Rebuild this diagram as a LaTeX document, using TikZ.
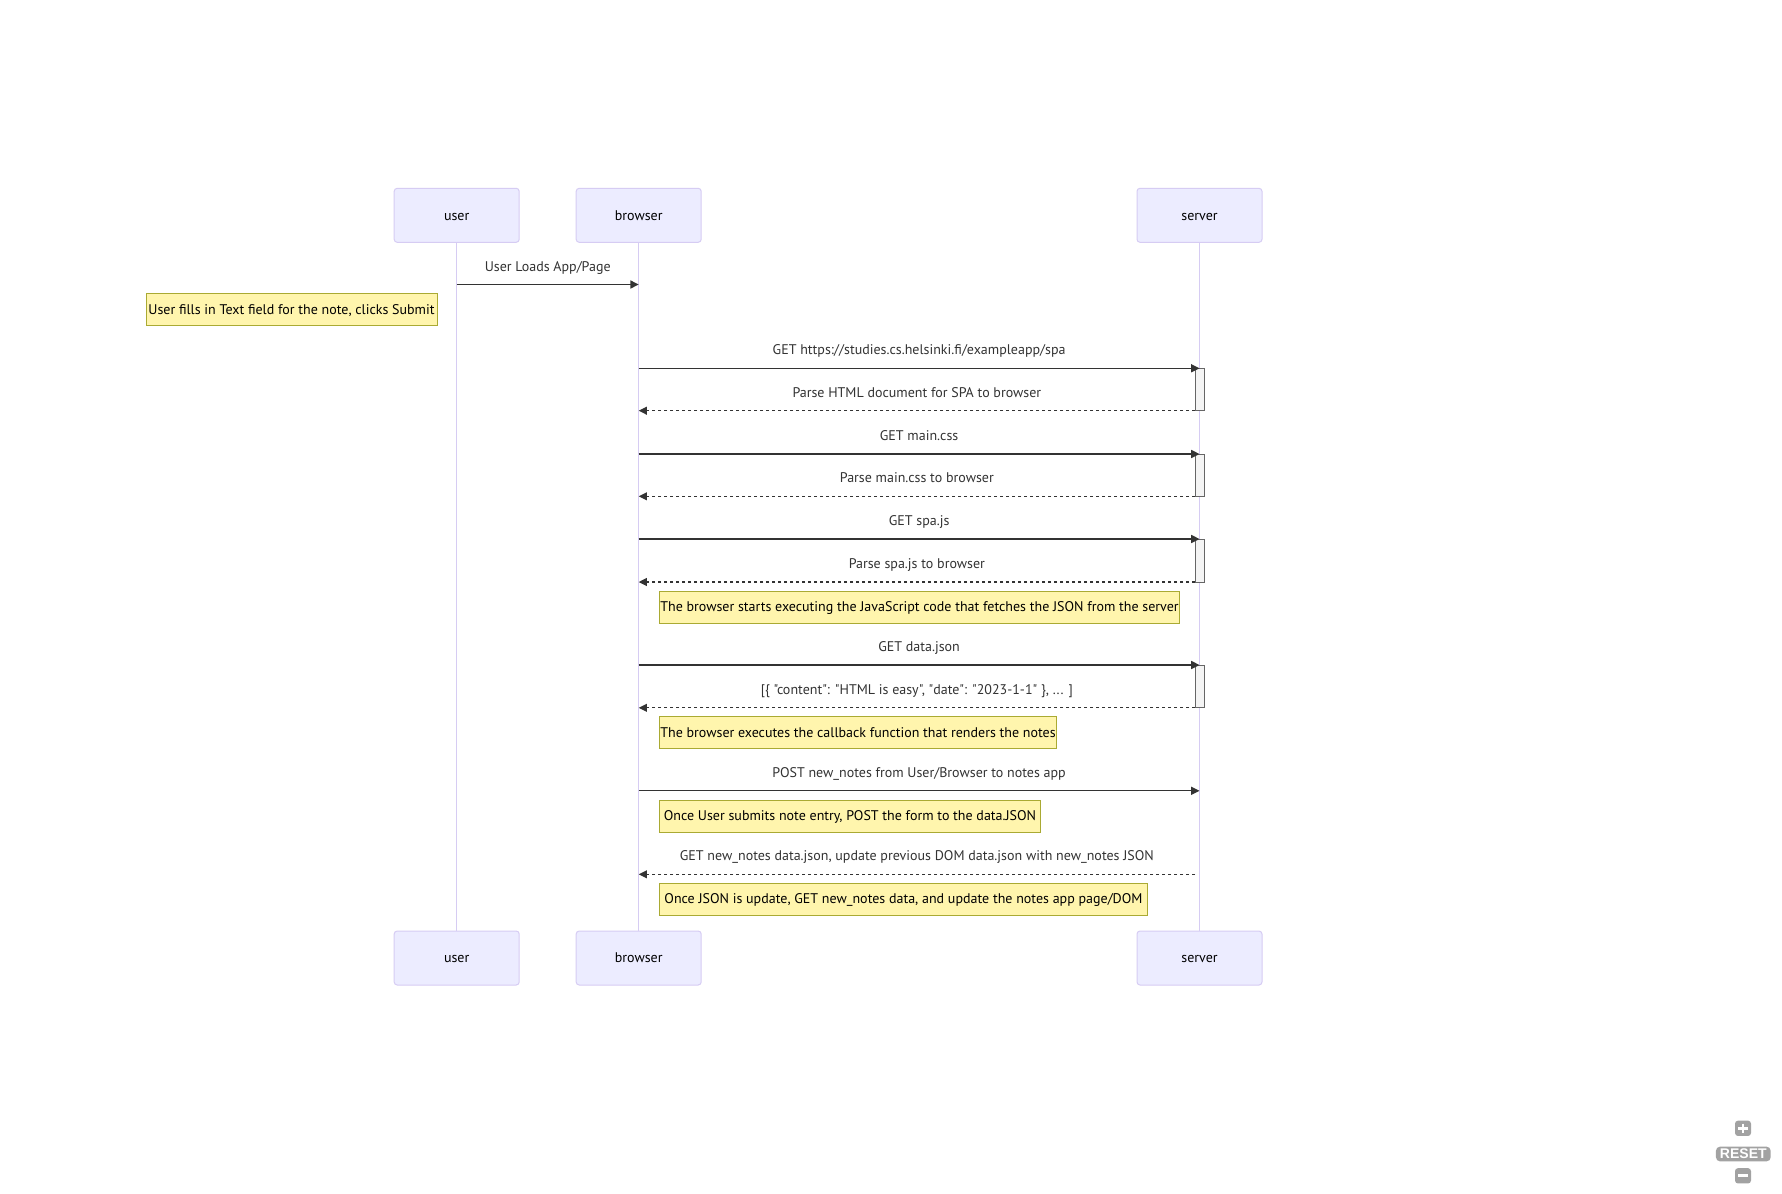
\documentclass[tikz,border=0pt]{standalone}
\usepackage{fontspec}
\newfontfamily\labelfont{PT Sans}
\newfontfamily\ctrlfont{Liberation Sans}
\usepackage{tikz}
\usetikzlibrary{arrows.meta,calc}

\definecolor{actorfill}{HTML}{ECECFF}
\definecolor{actorline}{HTML}{D6CCF3}
\definecolor{notefill}{HTML}{FFF5AD}
\definecolor{noteline}{HTML}{AAAA33}
\definecolor{msgcol}{HTML}{333333}
\definecolor{actfill}{HTML}{F4F4F4}
\definecolor{actline}{HTML}{666666}
\definecolor{ctrlgray}{HTML}{A2A2A2}

\tikzset{
  % style for the participant boxes
  actor/.style={draw=actorline, fill=actorfill, rounded corners=2.25pt,
    line width=0.75pt, minimum width=93.75pt, minimum height=40.5pt,
    text height=2ex, text depth=0.3ex,
    font=\labelfont\fontsize{10.5}{12}\selectfont},
  % style for the vertical life lines
  lifeline/.style={draw=actorline, line width=1pt},
  % style for a call and for its dotted answer
  msg/.style={draw=msgcol, line width=1pt, -{Triangle[length=6.2pt,width=6pt]}},
  reply/.style={msg, line width=0.9pt, dash pattern=on 2.25pt off 2.25pt},
  % style for the text over a message
  msglabel/.style={midway, yshift=12.6pt, text=msgcol, inner sep=0pt,
    text height=1.6ex, text depth=0.4ex,
    font=\labelfont\fontsize{10.5}{12}\selectfont},
  % style for the yellow notes
  note/.style={draw=noteline, fill=notefill, line width=0.75pt,
    minimum height=24pt, anchor=north west, inner sep=0pt,
    text height=1.9ex, text depth=0.3ex,
    font=\labelfont\fontsize{10.5}{12}\selectfont},
  % style for the server activations
  activation/.style={draw=actline, fill=actfill, line width=0.75pt},
  % style for the zoom buttons
  ctrlbtn/.style={fill=ctrlgray, rounded corners=2.25pt, minimum width=12pt,
    minimum height=11.5pt, inner sep=0pt},
}

\begin{document}
\begin{tikzpicture}[x=0.75pt, y=-0.75pt]
\useasboundingbox (0,0) rectangle (1782,1193);
\fill[white] (0,0) rectangle (1782,1193);

% Participants
\foreach \name/\x in {user/456.7, browser/638.7, server/1199.5} {
    \node[actor] (\name) at (\x, 215.3) {\name};
    \node[actor] (\name-bot) at (\x, 958) {\name};
    \draw[lifeline] (\name) -- (\name-bot);
}

% Message rows
\coordinate (m1) at (0, 284.5);
\coordinate (m2) at (0, 368.3);
\coordinate (m3) at (0, 410.7);
\coordinate (m4) at (0, 454);
\coordinate (m5) at (0, 496.3);
\coordinate (m6) at (0, 539);
\coordinate (m7) at (0, 582);
\coordinate (m8) at (0, 665);
\coordinate (m9) at (0, 707.8);
\coordinate (m10) at (0, 790.8);
\coordinate (m11) at (0, 874.3);

% Activations
\foreach \a/\b in {m2/m3, m4/m5, m6/m7, m8/m9}
    \draw[activation] ($(server |- \a) + (-4.5,0)$) rectangle ($(server |- \b) + (4.5,0)$);

% Messages
\draw[msg] (user |- m1) -- (browser |- m1) node[msglabel] {User Loads App/Page};
\draw[msg] (browser |- m2) -- (server |- m2) node[msglabel] {GET https://studies.cs.helsinki.fi/exampleapp/spa};
\draw[reply] ($(server |- m3) + (-4.5,0)$) -- (browser |- m3) node[msglabel] {Parse HTML document for SPA to browser};
\draw[msg] (browser |- m4) -- (server |- m4) node[msglabel] {GET main.css};
\draw[reply] ($(server |- m5) + (-4.5,0)$) -- (browser |- m5) node[msglabel] {Parse main.css to browser};
\draw[msg] (browser |- m6) -- (server |- m6) node[msglabel] {GET spa.js};
\draw[reply] ($(server |- m7) + (-4.5,0)$) -- (browser |- m7) node[msglabel] {Parse spa.js to browser};
\draw[msg] (browser |- m8) -- (server |- m8) node[msglabel] {GET data.json};
\draw[reply] ($(server |- m9) + (-4.5,0)$) -- (browser |- m9) node[msglabel] {[\{ "content": "HTML is easy", "date": "2023-1-1" \}, ... ]};
\draw[msg] (browser |- m10) -- (server |- m10) node[msglabel] {POST new\_notes from User/Browser to notes app};
\draw[reply] ($(server |- m11) + (-4.5,0)$) -- (browser |- m11) node[msglabel] {GET new\_notes data.json, update previous DOM data.json with new\_notes JSON};

% Notes
\node[note, minimum width=218.25pt] (fill) at (145.5, 293.3) {User fills in Text field for the note, clicks Submit};
\node[note, minimum width=390pt] (starts) at (659, 590.7) {The browser starts executing the JavaScript code that fetches the JSON from the server};
\node[note, minimum width=297.75pt] (callback) at (659, 716) {The browser executes the callback function that renders the notes};
\node[note, minimum width=285.75pt] (submits) at (659, 799.5) {Once User submits note entry, POST the form to the data.JSON};
\node[note, minimum width=366pt] (update) at (659, 882.8) {Once JSON is update, GET new\_notes data, and update the notes app page/DOM};

% Zoom controls
\node[ctrlbtn] (zoomin) at (1743, 1128.3) {};
\node[ctrlbtn, minimum width=41pt, minimum height=11pt, rounded corners=3pt, text=white,
    font=\ctrlfont\bfseries\fontsize{10.5}{10.5}\selectfont] (reset) at (1743.3, 1154) {RESET};
\node[ctrlbtn] (zoomout) at (1743, 1175.8) {};
\draw[white, line width=2.2pt] ($(zoomin) + (0,-4.6)$) -- ($(zoomin) + (0,4.6)$)
    ($(zoomin) + (-4.6,0)$) -- ($(zoomin) + (4.6,0)$);
\draw[white, line width=2.2pt] ($(zoomout) + (-4.6,0)$) -- ($(zoomout) + (4.6,0)$);

\end{tikzpicture}
\end{document}
